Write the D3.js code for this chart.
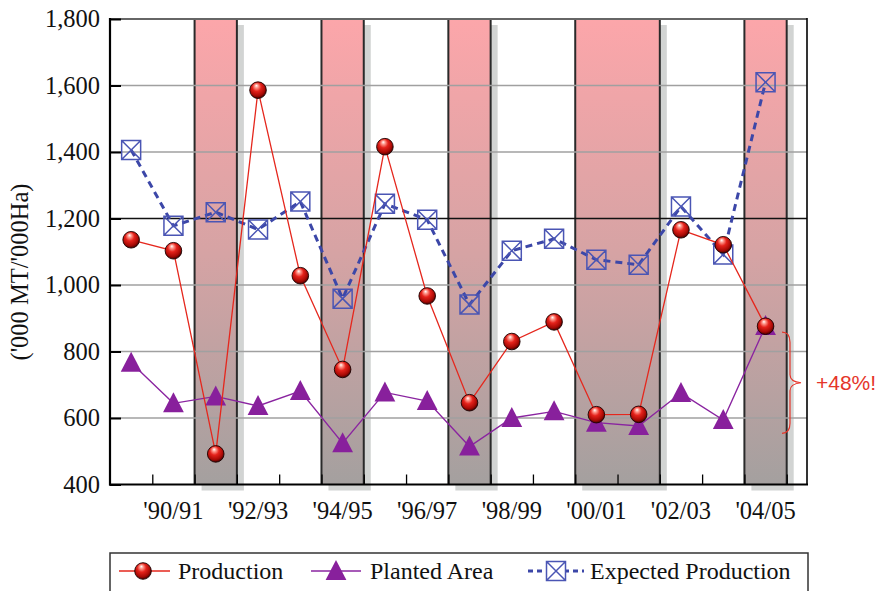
<!DOCTYPE html>
<html>
<head>
<meta charset="utf-8">
<script src="https://cdn.jsdelivr.net/npm/d3@7"></script>
<style>
  html, body { margin: 0; padding: 0; background: #fff; }
  svg { display: block; }
</style>
</head>
<body>
<svg id="chart" width="882" height="591"></svg>
<script>
// ---------------- DATA ----------------
const categories = ["89/90","90/91","91/92","92/93","93/94","94/95","95/96","96/97",
                    "97/98","98/99","99/00","00/01","01/02","02/03","03/04","04/05"];
const tickLabels = ["", "'90/91", "", "'92/93", "", "'94/95", "", "'96/97",
                    "", "'98/99", "", "'00/01", "", "'02/03", "", "'04/05"];
const production = [1136, 1103, 492, 1586, 1028, 746, 1416, 967, 646, 830, 889, 610, 611, 1166, 1121, 876];
const plantedArea = [766, 644, 665, 636, 681, 524, 677, 651, 514, 600, 620, 586, 576, 675, 594, 877];
const expectedProduction = [1406, 1178, 1219, 1167, 1251, 959, 1244, 1196, 941, 1103, 1139, 1076, 1061, 1236, 1092, 1610];
const shadedRanges = [[2,2],[5,5],[8,8],[11,12],[15,15]];
const yTicks = [400, 600, 800, 1000, 1200, 1400, 1600, 1800];
const seriesNames = ["Production", "Planted Area", "Expected Production"];
const braceRange = [858, 554];
const annotationText = "+48%!";
const yTitle = "('000 MT/'000Ha)";

// ---------------- LAYOUT ----------------
const svg = d3.select("#chart");
const L = 110, R = 807, T = 19, B = 484.5;
const x = d3.scaleLinear().domain([-0.5, 15.98]).range([L, R]);
const y = d3.scaleLinear().domain([400, 1800]).range([B, T]);
const serif = "'Liberation Serif', 'Times New Roman', serif";

const defs = svg.append("defs");
const bg = defs.append("linearGradient").attr("id", "barGrad")
  .attr("gradientUnits", "userSpaceOnUse").attr("x1", 0).attr("x2", 0).attr("y1", T).attr("y2", B);
bg.append("stop").attr("offset", "0%").attr("stop-color", "#fca6aa");
bg.append("stop").attr("offset", "50%").attr("stop-color", "#d6a3a4");
bg.append("stop").attr("offset", "100%").attr("stop-color", "#a4a09f");

const sg = defs.append("radialGradient").attr("id", "ball")
  .attr("cx", "45%").attr("cy", "40%").attr("r", "60%").attr("fx", "40%").attr("fy", "22%");
sg.append("stop").attr("offset", "0%").attr("stop-color", "#ffffff");
sg.append("stop").attr("offset", "18%").attr("stop-color", "#ff9a8e");
sg.append("stop").attr("offset", "45%").attr("stop-color", "#e5221b");
sg.append("stop").attr("offset", "80%").attr("stop-color", "#a80a05");
sg.append("stop").attr("offset", "100%").attr("stop-color", "#4a0000");

// shadows
const bars = svg.append("g");
shadedRanges.forEach(([a, b]) => {
  const x0 = x(a - 0.5), x1 = x(b + 0.5);
  bars.append("rect").attr("x", x0 + 7).attr("y", T + 6).attr("width", x1 - x0).attr("height", B - T)
    .attr("fill", "#d2d4d3");
});
shadedRanges.forEach(([a, b]) => {
  const x0 = x(a - 0.5), x1 = x(b + 0.5);
  bars.append("rect").attr("x", x0).attr("y", T).attr("width", x1 - x0).attr("height", B - T)
    .attr("fill", "url(#barGrad)");
  bars.append("line").attr("x1", x0).attr("x2", x0).attr("y1", T).attr("y2", B)
    .attr("stroke", "#2a2a2a").attr("stroke-width", 2);
  bars.append("line").attr("x1", x1).attr("x2", x1).attr("y1", T).attr("y2", B)
    .attr("stroke", "#2a2a2a").attr("stroke-width", 2);
});

// gridlines
const grid = svg.append("g");
yTicks.forEach(v => {
  if (v === 400) return;
  grid.append("line").attr("x1", L).attr("x2", R).attr("y1", y(v)).attr("y2", y(v))
    .attr("stroke", v === 1200 ? "#111" : (v === 1800 ? "#666" : "#a0a0a0"))
    .attr("stroke-width", v === 1800 ? 2 : 1.5);
});

// axes
const yAxis = svg.append("g").attr("transform", `translate(${L},0)`)
  .call(d3.axisLeft(y).tickValues(yTicks).tickSize(-11).tickPadding(10).tickFormat(d3.format(",")));
yAxis.select(".domain").remove();
yAxis.selectAll(".tick line").attr("stroke", "#000").attr("stroke-width", 2);
yAxis.selectAll("text").attr("font-family", serif).attr("font-size", 24.5).attr("fill", "#111")
  .attr("dy", "0.32em");

const xAxis = svg.append("g").attr("transform", `translate(0,${B})`)
  .call(d3.axisBottom(x).tickValues(d3.range(0.5, 16, 1)).tickSize(-10).tickFormat(""));
xAxis.select(".domain").remove();
xAxis.selectAll(".tick line").attr("stroke", "#000").attr("stroke-width", 1.3);
svg.append("g").selectAll("text").data(categories).join("text")
  .attr("x", (d, i) => x(i)).attr("y", 519).attr("text-anchor", "middle")
  .attr("font-family", serif).attr("font-size", 24.5).attr("fill", "#111")
  .text((d, i) => tickLabels[i]);

// frame
svg.append("line").attr("x1", L).attr("x2", L).attr("y1", T - 1).attr("y2", B + 1).attr("stroke", "#000").attr("stroke-width", 2.2);
svg.append("line").attr("x1", L - 1).attr("x2", R + 1).attr("y1", B).attr("y2", B).attr("stroke", "#000").attr("stroke-width", 2.2);
svg.append("line").attr("x1", R).attr("x2", R).attr("y1", T - 1).attr("y2", B).attr("stroke", "#000").attr("stroke-width", 1.6);

// y title
svg.append("text").attr("transform", `translate(28,272) rotate(-90)`).attr("text-anchor", "middle")
  .attr("font-family", serif).attr("font-size", 24.5).attr("fill", "#111").text(yTitle);

// ---------------- SERIES ----------------
const lineGen = d3.line().x((d, i) => x(i)).y(d => y(d));
const triPath = (cx, cy, s) => `M${cx},${cy - s * 0.55}L${cx + s * 0.52},${cy + s * 0.45}L${cx - s * 0.52},${cy + s * 0.45}Z`;
const boxPath = (cx, cy, h) => `M${cx - h},${cy - h}H${cx + h}V${cy + h}H${cx - h}Z M${cx - h},${cy - h}L${cx + h},${cy + h} M${cx + h},${cy - h}L${cx - h},${cy + h}`;

// Planted area
svg.append("path").datum(plantedArea).attr("d", lineGen).attr("fill", "none")
  .attr("stroke", "#8a24a0").attr("stroke-width", 1.4);
svg.append("g").selectAll("path").data(plantedArea).join("path")
  .attr("d", (d, i) => triPath(x(i), y(d), 20)).attr("fill", "#88209c");

// Expected production
svg.append("path").datum(expectedProduction).attr("d", lineGen).attr("fill", "none")
  .attr("stroke", "#3c47a8").attr("stroke-width", 3).attr("stroke-dasharray", "7,5");
svg.append("g").selectAll("path").data(expectedProduction).join("path")
  .attr("d", (d, i) => boxPath(x(i), y(d), 9.5)).attr("fill", "none")
  .attr("stroke", "#4a55b4").attr("stroke-width", 1.5);

// Production
svg.append("path").datum(production).attr("d", lineGen).attr("fill", "none")
  .attr("stroke", "#e5271d").attr("stroke-width", 1.3);
svg.append("g").selectAll("circle").data(production).join("circle")
  .attr("cx", (d, i) => x(i)).attr("cy", d => y(d)).attr("r", 8.3)
  .attr("fill", "url(#ball)").attr("stroke", "#1a0000").attr("stroke-width", 0.9);

// ---------------- ANNOTATION ----------------
const by0 = y(braceRange[0]), by1 = y(braceRange[1]), bm = (by0 + by1) / 2;
const bx0 = 782, bx1 = 790, bt = 801;
svg.append("path")
  .attr("d", `M${bx0},${by0} Q${bx1},${by0} ${bx1},${by0 + 10} L${bx1},${bm - 8} Q${bx1},${bm - 1} ${bt},${bm} Q${bx1},${bm + 1} ${bx1},${bm + 8} L${bx1},${by1 - 10} Q${bx1},${by1} ${bx0},${by1}`)
  .attr("fill", "none").attr("stroke", "#e5352a").attr("stroke-width", 1.2);
svg.append("text").attr("x", 816).attr("y", bm + 7.5)
  .attr("font-family", "'Liberation Sans', Arial, sans-serif").attr("font-size", 21)
  .attr("fill", "#e5352a").text(annotationText);

// ---------------- LEGEND ----------------
const lg = svg.append("g");
lg.append("rect").attr("x", 110).attr("y", 553).attr("width", 698).attr("height", 60)
  .attr("fill", "#fff").attr("stroke", "#333").attr("stroke-width", 1.5);
const ly = 571;
// Production
lg.append("line").attr("x1", 119).attr("x2", 170).attr("y1", ly).attr("y2", ly).attr("stroke", "#e5271d").attr("stroke-width", 1.3);
lg.append("circle").attr("cx", 143).attr("cy", ly).attr("r", 8.3).attr("fill", "url(#ball)").attr("stroke", "#1a0000").attr("stroke-width", 0.9);
// Planted
lg.append("line").attr("x1", 311).attr("x2", 361).attr("y1", ly).attr("y2", ly).attr("stroke", "#8a24a0").attr("stroke-width", 1.4);
lg.append("path").attr("d", triPath(336, ly, 20)).attr("fill", "#88209c");
// Expected
lg.append("line").attr("x1", 528).attr("x2", 584).attr("y1", ly).attr("y2", ly).attr("stroke", "#3c47a8").attr("stroke-width", 3).attr("stroke-dasharray", "5,4");
lg.append("path").attr("d", boxPath(556, ly, 9.5)).attr("fill", "#fff").attr("stroke", "#4a55b4").attr("stroke-width", 1.5);
const legX = [178, 370, 590];
seriesNames.forEach((n, i) => {
  lg.append("text").attr("x", legX[i]).attr("y", ly + 8).attr("font-family", serif)
    .attr("font-size", 24).attr("fill", "#111").text(n);
});
</script>
</body>
</html>
